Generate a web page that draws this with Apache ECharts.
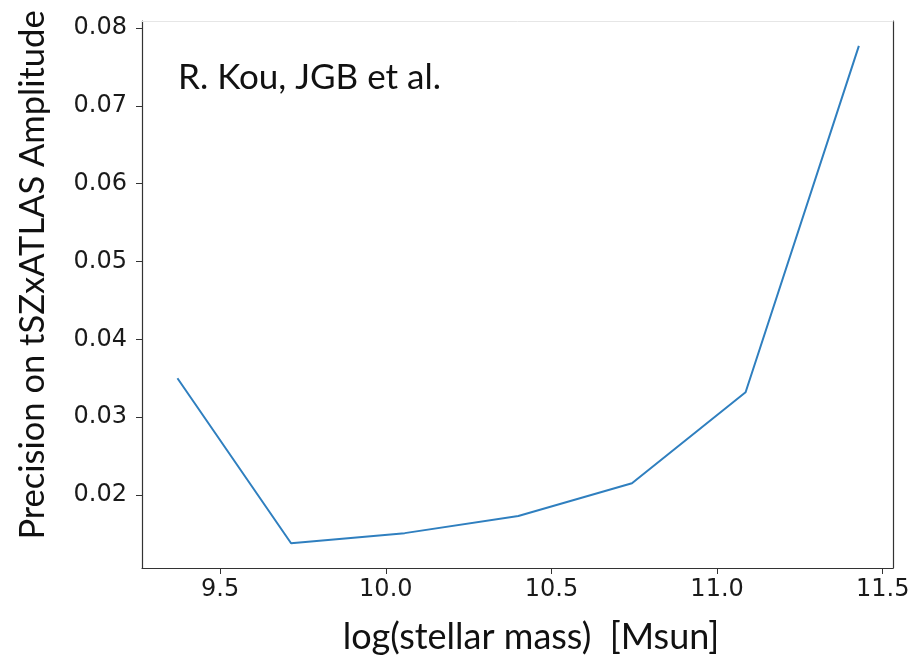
<!DOCTYPE html>
<html><head><meta charset="utf-8">
<script src="https://cdn.jsdelivr.net/npm/echarts@6/dist/echarts.min.js"></script>
<style>html,body{margin:0;padding:0;background:#fff}#c{width:913px;height:663px}</style>
</head><body><div id="c"></div>
<script>
const massValues = [9.371, 9.714, 10.057, 10.400, 10.743, 11.086, 11.428];
const precision = [0.0350, 0.0138, 0.0151, 0.0173, 0.0215, 0.0332, 0.0777];
const xTicks = [9.5, 10.0, 10.5, 11.0, 11.5];
const yTicks = [0.02, 0.03, 0.04, 0.05, 0.06, 0.07, 0.08];
const xMin = 9.264, xMax = 11.531, yMin = 0.01062, yMax = 0.0809;
const xTitle = 'log(stellar mass)  [Msun]';
const yTitle = 'Precision on tSZxATLAS Amplitude';
const annotation = 'R. Kou, JGB et al.';

const chart = echarts.init(document.getElementById('c'));
const tickFont = {fontFamily:'DejaVu Sans', fontSize:24, color:'#1a1a1a'};
chart.setOption({
  animation:false,
  grid:{left:142, right:20, top:21, bottom:95},
  xAxis:[{
    type:'value', min:xMin, max:xMax, position:'bottom',
    axisLine:{show:true, lineStyle:{color:'#333', width:1.2}},
    axisTick:{show:true, length:6, inside:false, customValues:xTicks, lineStyle:{color:'#333'}},
    axisLabel:Object.assign({customValues:xTicks, margin:10, formatter:v=>v.toFixed(1)}, tickFont),
    splitLine:{show:false}
  },{
    type:'value', min:xMin, max:xMax, position:'top',
    axisLine:{show:true, lineStyle:{color:'#e6e6e6', width:1}},
    axisTick:{show:false}, axisLabel:{show:false}, splitLine:{show:false}
  }],
  yAxis:[{
    type:'value', min:yMin, max:yMax, position:'left',
    axisLine:{show:true, lineStyle:{color:'#333', width:1.2}},
    axisTick:{show:true, length:6, customValues:yTicks, lineStyle:{color:'#333'}},
    axisLabel:Object.assign({customValues:yTicks, margin:15, formatter:v=>v.toFixed(2)}, tickFont),
    splitLine:{show:false}
  },{
    type:'value', min:yMin, max:yMax, position:'right',
    axisLine:{show:true, lineStyle:{color:'#333', width:1.2}},
    axisTick:{show:false}, axisLabel:{show:false}, splitLine:{show:false}
  }],
  graphic:[{
    type:'text', x:178, y:78,
    style:{text:annotation, fontFamily:'Lato', fontSize:35, fill:'#111', align:'left', verticalAlign:'middle'}
  },{
    type:'text', x:531, y:637,
    style:{text:xTitle, fontFamily:'Lato', fontSize:36, fill:'#111', align:'center', verticalAlign:'middle'}
  },{
    type:'text', x:33, y:275, rotation:Math.PI/2,
    style:{text:yTitle, fontFamily:'Lato', fontSize:34.5, fill:'#111', align:'center', verticalAlign:'middle'}
  }],
  series:[{
    type:'line', xAxisIndex:0, yAxisIndex:0,
    data:massValues.map((x,i)=>[x, precision[i]]),
    showSymbol:false, lineStyle:{color:'#2f7fbf', width:2}
  }]
});
</script></body></html>
